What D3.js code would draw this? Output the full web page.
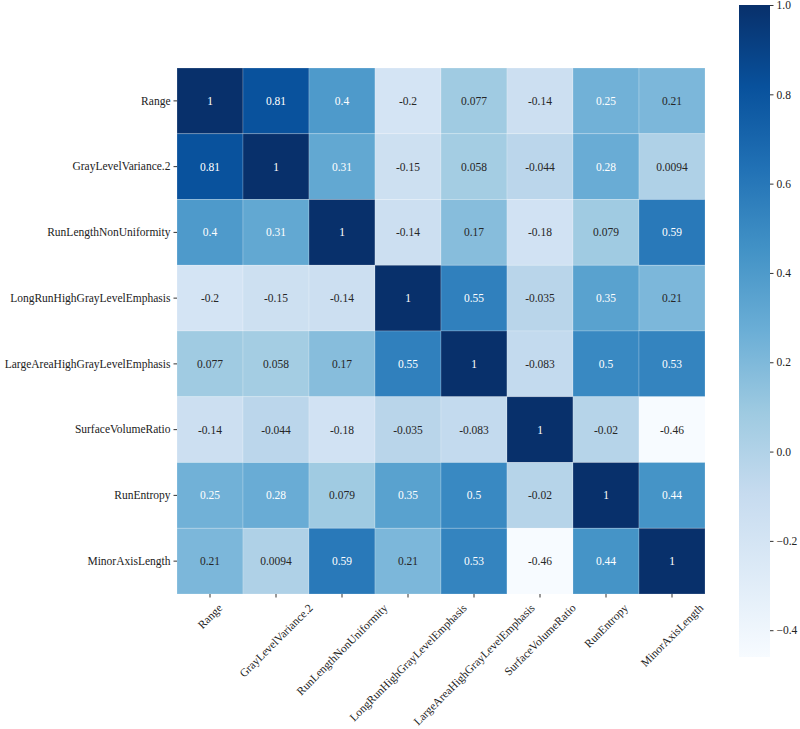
<html>
<head>
    <meta charset="utf-8">
    <style>
        body { margin: 0; background: #fff; }
        svg text { font-family: "Liberation Serif", "DejaVu Serif", serif !important; }
    </style>
</head>
<body>
<svg id="container" width="800" height="729">
    <g id="cells"></g>
    <g id="yAxis"></g>
    <g id="xAxis"></g>
    <g id="cbar"></g>
</svg>
<script src="https://cdn.jsdelivr.net/npm/d3@7"></script>
<script>
    // feature names (same order on both axes)
    const features = ["Range", "GrayLevelVariance.2", "RunLengthNonUniformity",
        "LongRunHighGrayLevelEmphasis", "LargeAreaHighGrayLevelEmphasis",
        "SurfaceVolumeRatio", "RunEntropy", "MinorAxisLength"]

    // correlation matrix, one row per feature
    const corr = [
        [1, 0.81, 0.4, -0.2, 0.077, -0.14, 0.25, 0.21],
        [0.81, 1, 0.31, -0.15, 0.058, -0.044, 0.28, 0.0094],
        [0.4, 0.31, 1, -0.14, 0.17, -0.18, 0.079, 0.59],
        [-0.2, -0.15, -0.14, 1, 0.55, -0.035, 0.35, 0.21],
        [0.077, 0.058, 0.17, 0.55, 1, -0.083, 0.5, 0.53],
        [-0.14, -0.044, -0.18, -0.035, -0.083, 1, -0.02, -0.46],
        [0.25, 0.28, 0.079, 0.35, 0.5, -0.02, 1, 0.44],
        [0.21, 0.0094, 0.59, 0.21, 0.53, -0.46, 0.44, 1]
    ]

    const colorbarTicks = [1.0, 0.8, 0.6, 0.4, 0.2, 0.0, -0.2, -0.4]

    // matplotlib "Blues" anchor colours
    const blues = ["#f7fbff", "#deebf7", "#c6dbef", "#9ecae1", "#6baed6",
        "#4292c6", "#2171b5", "#08519c", "#08306b"]

    let vmin = d3.min(corr.flat()), vmax = d3.max(corr.flat())
    let color = d3.scaleLinear()
        .domain(blues.map((c, i) => vmin + (vmax - vmin) * i / (blues.length - 1)))
        .range(blues)

    let hmLeft = 177, hmTop = 68, hmRight = 705, hmBottom = 594
    let x = d3.scaleBand().domain(features).range([hmLeft, hmRight])
    let y = d3.scaleBand().domain(features).range([hmTop, hmBottom])

    let cells = []
    corr.forEach((row, i) => row.forEach((v, j) => cells.push({ r: features[i], c: features[j], v: v })))

    // text colour picked like seaborn: dark on light cells, white on dark cells
    function lum(c) {
        let rgb = d3.rgb(c)
        let f = u => { u = u / 255; return u <= 0.03928 ? u / 12.92 : Math.pow((u + 0.055) / 1.055, 2.4) }
        return 0.2126 * f(rgb.r) + 0.7152 * f(rgb.g) + 0.0722 * f(rgb.b)
    }

    let g = d3.select("#cells")
    g.selectAll("rect").data(cells).enter().append("rect")
        .attr("x", d => x(d.c))
        .attr("y", d => y(d.r))
        .attr("width", x.bandwidth())
        .attr("height", y.bandwidth())
        .style("fill", d => color(d.v))
        .style("stroke", "rgba(255,255,255,0.25)")
        .style("stroke-width", 0.8)

    g.selectAll("text").data(cells).enter().append("text")
        .attr("x", d => x(d.c) + x.bandwidth() / 2)
        .attr("y", d => y(d.r) + y.bandwidth() / 2)
        .attr("text-anchor", "middle")
        .attr("dominant-baseline", "central")
        .style("font-size", "11.5px")
        .style("fill", d => lum(color(d.v)) > 0.408 ? "#262626" : "#ffffff")
        .text(d => String(d.v))

    // y axis
    d3.select("#yAxis")
        .attr("transform", `translate(${hmLeft},0)`)
        .call(d3.axisLeft(y).tickSize(3.5).tickPadding(3))
        .call(a => a.select(".domain").remove())
        .call(a => a.selectAll("line").style("stroke", "#333"))
        .call(a => a.selectAll("text").style("font-size", "11.5px").style("fill", "#222"))

    // x axis, labels rotated 45 and centered on the tick
    let xa = d3.select("#xAxis")
        .attr("transform", `translate(0,${hmBottom})`)
        .call(d3.axisBottom(x).tickSize(3.5).tickPadding(3))
        .call(a => a.select(".domain").remove())
        .call(a => a.selectAll("line").style("stroke", "#333"))
    xa.selectAll("text")
        .style("font-size", "11.5px").style("fill", "#222")
        .attr("dy", null)
        .attr("text-anchor", "middle")
        .attr("dominant-baseline", "central")
        .each(function() {
            let w = this.getComputedTextLength()
            let h = (w + 11) * Math.SQRT1_2
            d3.select(this)
                .attr("y", 0)
                .attr("transform", `translate(0,${8 + h / 2}) rotate(-45)`)
        })

    // colorbar
    let cbX = 739, cbW = 31, cbTop = 5, cbBottom = 657
    let cy = d3.scaleLinear().domain([vmin, vmax]).range([cbBottom, cbTop])
    let defs = d3.select("#container").append("defs")
    let grad = defs.append("linearGradient").attr("id", "cbgrad")
        .attr("x1", 0).attr("y1", 1).attr("x2", 0).attr("y2", 0)
    blues.forEach((c, i) => grad.append("stop")
        .attr("offset", i / (blues.length - 1))
        .attr("stop-color", c))

    let cb = d3.select("#cbar")
    cb.append("rect")
        .attr("x", cbX).attr("y", cbTop)
        .attr("width", cbW).attr("height", cbBottom - cbTop)
        .style("fill", "url(#cbgrad)")

    cb.append("g")
        .attr("transform", `translate(${cbX + cbW},0)`)
        .call(d3.axisRight(cy).tickValues(colorbarTicks).tickFormat(d3.format(".1f")).tickSize(3.5).tickPadding(3))
        .call(a => a.select(".domain").remove())
        .call(a => a.selectAll("line").style("stroke", "#333"))
        .call(a => a.selectAll("text").style("font-size", "11.5px").style("fill", "#222"))
</script>
</body>
</html>
